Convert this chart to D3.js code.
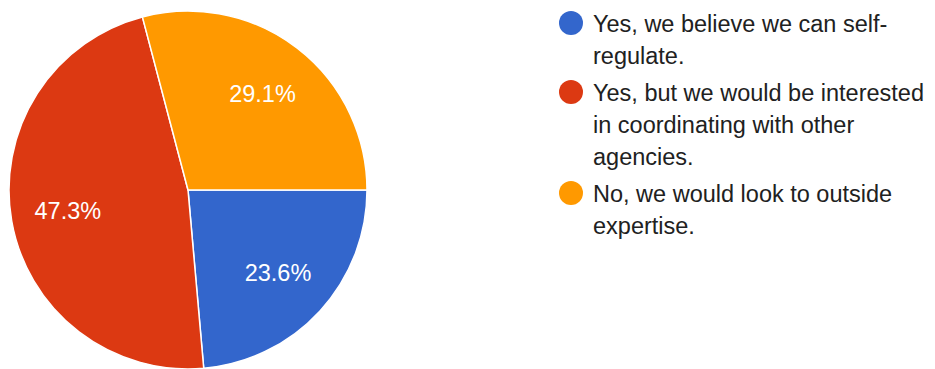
<!DOCTYPE html>
<html>
<head>
<meta charset="utf-8">
<script src="https://cdn.jsdelivr.net/npm/d3@7"></script>
<style>
  body { margin: 0; background: #fff; }
  svg { display: block; font-family: "Liberation Sans", Arial, sans-serif; }
</style>
</head>
<body>
<svg id="chart" width="935" height="369"></svg>
<script>
// Data
const categories = [
    'Yes, we believe we can self-regulate.',
    'Yes, but we would be interested in coordinating with other agencies.',
    'No, we would look to outside expertise.'
]
const shares = [23.6, 47.3, 29.1]
const colors = ['#3366cc', '#dc3912', '#ff9900']
// line breaks as shown in the legend
const legendLines = [
    ['Yes, we believe we can self-', 'regulate.'],
    ['Yes, but we would be interested', 'in coordinating with other', 'agencies.'],
    ['No, we would look to outside', 'expertise.']
]

const svg = d3.select('#chart')

// Presentation
const cx = 188, cy = 190, radius = 179
const labelRadius = 122
const fontSize = 23.5

const pie = d3.pie()
    .sort(null)
    .startAngle(Math.PI / 2)
    .endAngle(Math.PI / 2 + 2 * Math.PI)
const arcs = pie(shares)
const arc = d3.arc().innerRadius(0).outerRadius(radius)
const labelArc = d3.arc().innerRadius(labelRadius).outerRadius(labelRadius)

const pieG = svg.append('g')
    .attr('transform', `translate(${cx}, ${cy})`)

pieG.selectAll('path.slice')
    .data(arcs)
    .enter()
    .append('path')
    .classed('slice', true)
    .attr('d', arc)
    .attr('fill', (_, i) => colors[i])
    .attr('stroke', '#fff')
    .attr('stroke-width', 1.5)

pieG.selectAll('text.pct')
    .data(arcs)
    .enter()
    .append('text')
    .classed('pct', true)
    .attr('transform', d => `translate(${labelArc.centroid(d)})`)
    .attr('text-anchor', 'middle')
    .attr('dy', '0.36em')
    .attr('fill', '#fff')
    .style('font-size', `${fontSize}px`)
    .text(d => `${d.value.toFixed(1)}%`)

// Legend
const legendX = 571
const lineHeight = 32
const itemGap = 5
const legend = svg.append('g').attr('class', 'legend')

let y = 32
legendLines.forEach((lines, i) => {
    const item = legend.append('g')
    item.append('circle')
        .attr('cx', legendX)
        .attr('cy', y - 9)
        .attr('r', 12)
        .attr('fill', colors[i])
    const t = item.append('text')
        .attr('fill', '#212121')
        .style('font-size', `${fontSize}px`)
        .attr('aria-label', categories[i])
    lines.forEach((line, j) => {
        t.append('tspan')
            .attr('x', legendX + 22)
            .attr('y', y + j * lineHeight)
            .text(line)
    })
    y += lines.length * lineHeight + itemGap
})
</script>
</body>
</html>
